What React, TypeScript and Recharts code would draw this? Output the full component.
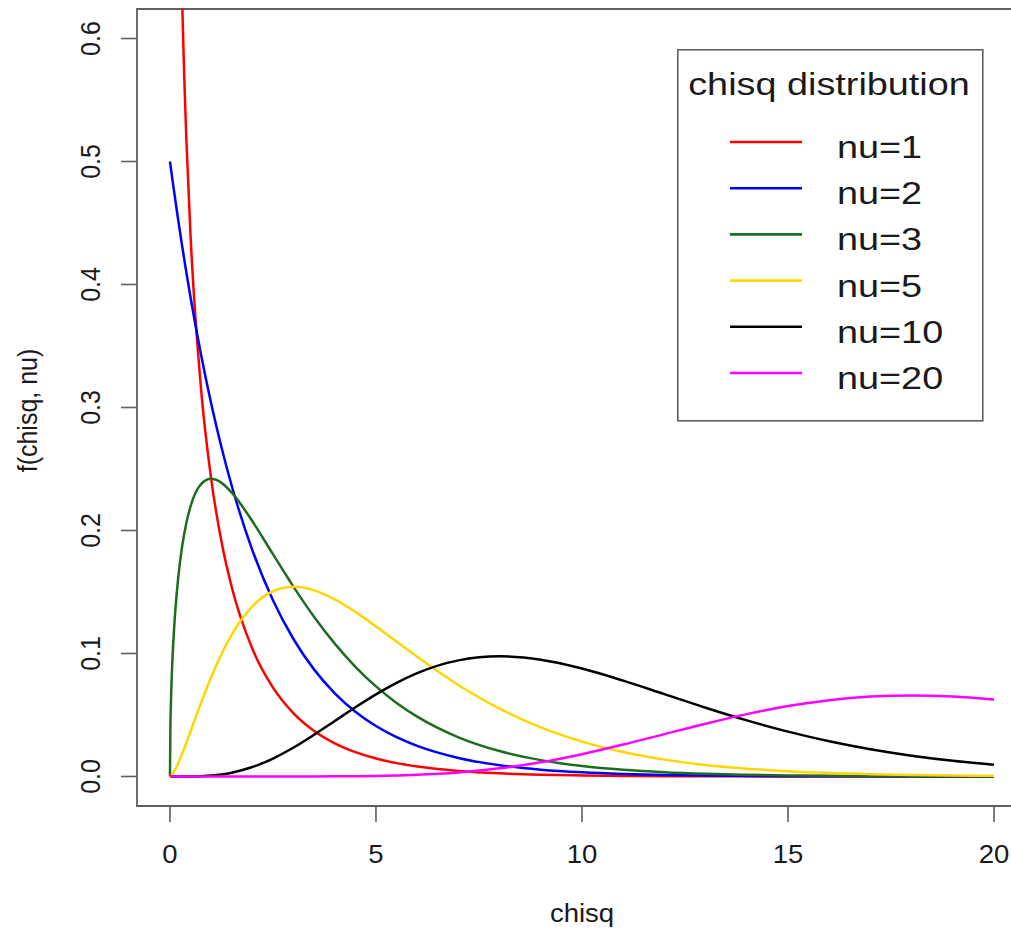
import React from 'react';
import { LineChart, Line, XAxis, YAxis, ReferenceArea, Legend } from 'recharts';

const chisq = [0, 0.01, 0.02, 0.05, 0.1, 0.2, 0.3, 0.4, 0.5, 0.75, 1, 1.25, 1.5, 2, 2.5, 3, 3.5, 4, 4.5, 5, 5.5, 6, 7, 8, 9, 10, 11, 12, 13, 14, 15, 16, 17, 18, 19, 20];

const nu1 = [null, 3.9695, 2.7929, 1.7401, 1.2, 0.80718, 0.62691, 0.51644, 0.43939, 0.31661, 0.24197, 0.191, 0.15387, 0.10378, 0.072288, 0.051393, 0.037055, 0.026996, 0.019822, 0.014645, 0.010875, 0.0081087, 0.0045533, 0.0025834, 0.0014773, 0.00085003, 0.00049158, 0.00028547, 0.00016635, 0.000097226, 0.000057, 0.000033457, 0.000019688, 0.000011605, 0.0000068507, 0.00000405];
const nu2 = [0.5, 0.49751, 0.49502, 0.48766, 0.47561, 0.45242, 0.43035, 0.40937, 0.3894, 0.34365, 0.30327, 0.26763, 0.23618, 0.18394, 0.14325, 0.11157, 0.086885, 0.06767, 0.0527, 0.041042, 0.031964, 0.024894, 0.015099, 0.009158, 0.0055545, 0.003369, 0.0020434, 0.0012394, 0.0007517, 0.00045594, 0.00027654, 0.00016773, 0.00010174, 0.000061705, 0.000037426, 0.0000227];
const nu3 = [0, 0.039695, 0.055858, 0.087004, 0.12001, 0.16143, 0.18807, 0.20658, 0.2197, 0.23746, 0.24197, 0.23874, 0.2308, 0.20755, 0.18072, 0.15418, 0.12969, 0.10799, 0.089199, 0.073225, 0.059813, 0.048652, 0.031873, 0.020667, 0.013296, 0.0085003, 0.0054074, 0.0034256, 0.0021625, 0.0013612, 0.00085457, 0.00053532, 0.00033469, 0.00020888, 0.00013016, 0.000081];
const nu5 = [0, 0.00013232, 0.00037239, 0.00145, 0.0040002, 0.010762, 0.018808, 0.027543, 0.036616, 0.059364, 0.080657, 0.099476, 0.1154, 0.13837, 0.1506, 0.15418, 0.15131, 0.14398, 0.1338, 0.12204, 0.10965, 0.097304, 0.074371, 0.055112, 0.039886, 0.028334, 0.019827, 0.013703, 0.0093709, 0.0063521, 0.0042728, 0.002855, 0.0018966, 0.0012533, 0.00082437, 0.00054];
const nu10 = [0, 0, 0, 0.0000000079, 0.000000124, 0.000001885, 0.00000908, 0.00002729, 0.00006338, 0.00028316, 0.00078975, 0.0017016, 0.0031138, 0.0076642, 0.014572, 0.023533, 0.033954, 0.045113, 0.056277, 0.066801, 0.076169, 0.084016, 0.094405, 0.097685, 0.094904, 0.087733, 0.07791, 0.066928, 0.05591, 0.045613, 0.036458, 0.028626, 0.022128, 0.016869, 0.012702, 0.0094583];
const nu20 = [0, 0, 0, 0, 0, 0, 0, 0, 0, 0, 0.0000000016, 0.0000000107, 0.000000049, 0.000000507, 0.00000294, 0.00001182, 0.00003686, 0.00009548, 0.00021463, 0.00043145, 0.00079231, 0.0013503, 0.0032793, 0.0066157, 0.011582, 0.018133, 0.025933, 0.03442, 0.042904, 0.050702, 0.05722, 0.062038, 0.064935, 0.065878, 0.065001, 0.062555];

const xTicks = [0, 5, 10, 15, 20];
const yTicks = [0, 0.1, 0.2, 0.3, 0.4, 0.5, 0.6];
const xTickLabels = ['0', '5', '10', '15', '20'];
const yTickLabels = ['0.0', '0.1', '0.2', '0.3', '0.4', '0.5', '0.6'];

const seriesKeys = ['nu1', 'nu2', 'nu3', 'nu5', 'nu10', 'nu20'];
const seriesNames = ['nu=1', 'nu=2', 'nu=3', 'nu=5', 'nu=10', 'nu=20'];
const seriesColors = ['#FF0000', '#0000FF', '#1c6e1c', '#FFD700', '#000000', '#FF00FF'];
const seriesValues = [nu1, nu2, nu3, nu5, nu10, nu20];

const data = chisq.map((x, i) => {
  const row: any = { x };
  seriesKeys.forEach((k, j) => {
    row[k] = seriesValues[j][i];
  });
  return row;
});

const FONT = '"Liberation Sans", Arial, Helvetica, sans-serif';
const AX_FS = 25;
const AX_SX = 1.1;
const LG_FS = 31;
const LG_SX = 1.22;
const GRAY = '#5f5f5f';
const TEXT = '#1a1a1a';

const XTick = (props: any) => {
  const { x, y, payload } = props;
  const idx = xTicks.indexOf(payload.value);
  return (
    <text transform={`translate(${x},${y + 39}) scale(${AX_SX},1)`} textAnchor="middle" fontSize={AX_FS} fontFamily={FONT} fill={TEXT}>
      {idx >= 0 ? xTickLabels[idx] : payload.value}
    </text>
  );
};

const YTick = (props: any) => {
  const { x, y, payload } = props;
  const idx = yTicks.findIndex((t) => Math.abs(t - payload.value) < 1e-9);
  return (
    <text transform={`translate(${x - 19},${y}) scale(${AX_SX},1) rotate(-90)`} textAnchor="middle" fontSize={AX_FS} fontFamily={FONT} fill={TEXT}>
      {idx >= 0 ? yTickLabels[idx] : payload.value}
    </text>
  );
};

const XTitle = (props: any) => {
  const vb = props.viewBox || {};
  return (
    <text transform={`translate(${vb.x + vb.width / 2},${vb.y + 116}) scale(${AX_SX},1)`} textAnchor="middle" fontSize={AX_FS} fontFamily={FONT} fill={TEXT}>
      chisq
    </text>
  );
};

const YTitle = (props: any) => {
  const vb = props.viewBox || {};
  return (
    <text transform={`translate(${vb.x + 37},${vb.y + vb.height / 2 + 3}) scale(${AX_SX},1) rotate(-90)`} textAnchor="middle" fontSize={AX_FS} fontFamily={FONT} fill={TEXT}>
      f(chisq, nu)
    </text>
  );
};

const renderLegend = (props: any) => {
  const payload = [...(props.payload || [])].sort(
    (a: any, b: any) => seriesNames.indexOf(a.value) - seriesNames.indexOf(b.value)
  );
  return (
    <svg width={310} height={376} style={{ display: 'block', overflow: 'visible' }}>
      <rect x={0.8} y={0.8} width={305} height={371} fill="#ffffff" stroke={GRAY} strokeWidth={1.6} />
      <text transform={`translate(152,46) scale(${LG_SX},1)`} textAnchor="middle" fontSize={LG_FS} fontFamily={FONT} fill={TEXT}>
        chisq distribution
      </text>
      {payload.map((p: any, i: number) => (
        <g key={i}>
          <line x1={53} x2={125} y1={93 + i * 46.2} y2={93 + i * 46.2} stroke={p.color} strokeWidth={2.6} />
          <text transform={`translate(160,${109 + i * 46.2}) scale(${LG_SX},1)`} fontSize={LG_FS} fontFamily={FONT} fill={TEXT}>
            {p.value}
          </text>
        </g>
      ))}
    </svg>
  );
};

export default function App() {
  return (
    <div style={{ position: 'absolute', left: 0, top: 0, width: 1011, height: 930, overflow: 'hidden', background: '#ffffff' }}>
      <LineChart width={1030} height={930} data={data} margin={{ top: 9, right: 3, bottom: 0, left: 0 }}>
        <XAxis
          dataKey="x"
          type="number"
          domain={[-0.8, 20.8]}
          ticks={xTicks}
          allowDataOverflow
          axisLine={false}
          tickLine={{ stroke: GRAY, strokeWidth: 1.6 }}
          tickSize={16}
          tickMargin={2}
          height={124}
          tick={<XTick />}
          label={{ content: XTitle }}
          interval={0}
        />
        <YAxis
          type="number"
          domain={[-0.024, 0.624]}
          ticks={yTicks}
          allowDataOverflow
          axisLine={false}
          tickLine={{ stroke: GRAY, strokeWidth: 1.6 }}
          tickSize={16}
          tickMargin={2}
          width={137}
          tick={<YTick />}
          label={{ content: YTitle }}
          interval={0}
        />
        <ReferenceArea x1={-0.8} x2={20.8} y1={-0.024} y2={0.624} fill="none" stroke={GRAY} strokeWidth={1.8} ifOverflow="visible" />
        {seriesKeys.map((k, j) => (
          <Line
            key={k}
            dataKey={k}
            name={seriesNames[j]}
            type="monotone"
            stroke={seriesColors[j]}
            strokeWidth={2.5}
            dot={false}
            activeDot={false}
            isAnimationActive={false}
            connectNulls={false}
          />
        ))}
        <Legend
          layout="horizontal"
          verticalAlign="middle"
          align="center"
          itemSorter={null as any}
          content={renderLegend}
          wrapperStyle={{ position: 'absolute', left: 677, top: 49, width: 310, height: 376, right: 'auto', bottom: 'auto' }}
        />
      </LineChart>
    </div>
  );
}
